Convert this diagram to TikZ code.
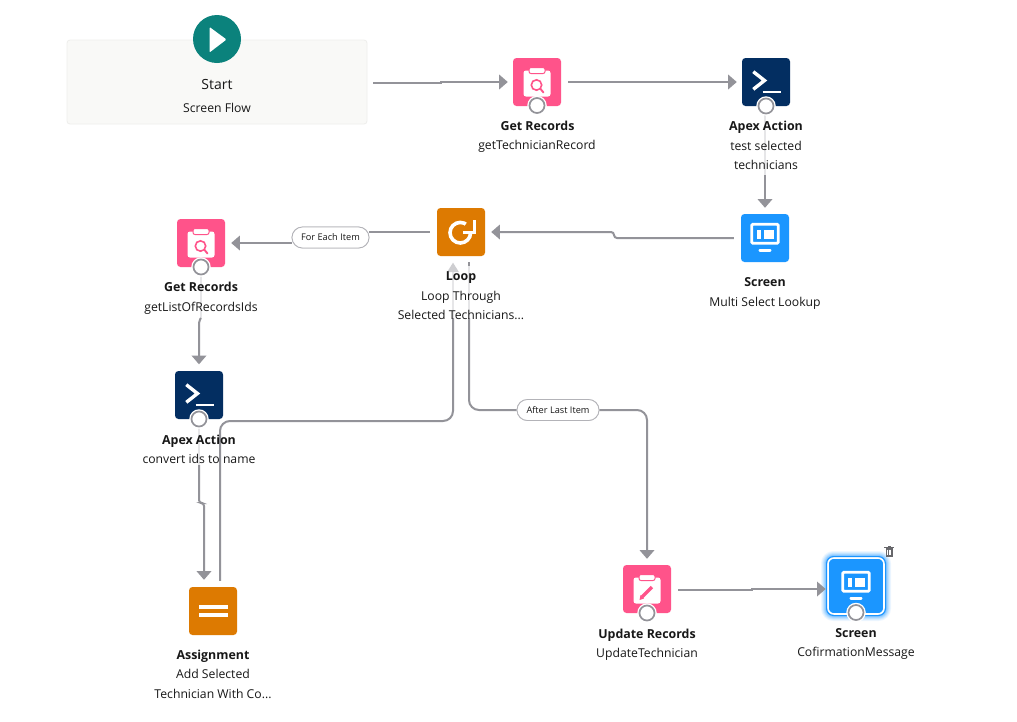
\documentclass[tikz,border=0pt]{standalone}
\usepackage{fontspec}
\setmainfont{Open Sans}
\usetikzlibrary{arrows.meta,calc}
\definecolor{conn}{HTML}{939399}
\definecolor{connlight}{HTML}{E6E6E8}
\definecolor{pinkic}{HTML}{FF538A}
\definecolor{navyic}{HTML}{032E61}
\definecolor{blueic}{HTML}{1B96FF}
\definecolor{orangeic}{HTML}{DD7A01}
\definecolor{tealic}{HTML}{0B827C}
\definecolor{boxfill}{HTML}{F9F9F7}
\definecolor{boxline}{HTML}{EEEEEC}
\definecolor{txt}{HTML}{181818}
\tikzset{
  x=1pt,y=-1pt,
  icon/.style={rounded corners=3.5pt,minimum size=48pt,inner sep=0pt,fill=#1},
  title/.style={font=\fontsize{12.4}{15}\selectfont\bfseries,text=txt,inner sep=0pt,anchor=center,text height=11pt,text depth=1pt},
  sub/.style={font=\fontsize{12.2}{15}\selectfont,text=txt,inner sep=0pt,anchor=center,text height=11pt,text depth=1pt},
  flow/.style={draw=conn,line width=2pt,-{Triangle[length=8.7pt,width=14.5pt]}},
  flowplain/.style={draw=conn,line width=2pt},
  faint/.style={draw=connlight,line width=2pt},
  pill/.style={draw=conn!70,line width=.8pt,fill=white,rounded corners=10.5pt,minimum height=21pt,inner sep=0pt,font=\fontsize{9.2}{11}\selectfont,text=txt},
  port/.style={circle,draw=conn,line width=1.7pt,fill=white,minimum size=15pt,inner sep=0pt,preaction={draw=white,line width=4.4pt}},
}
\newcommand{\clipic}[1]{%
  \fill[white,rounded corners=2.5pt] ($(#1)+(-13.5,-11.5)$) rectangle ($(#1)+(13.5,14.5)$);
  \fill[white,rounded corners=2pt,draw=pinkic,line width=1pt] ($(#1)+(-8,-14.5)$) rectangle ($(#1)+(8,-8.5)$);
}
\newcommand{\lensic}[1]{%
  \draw[pinkic,line width=1.6pt] ($(#1)+(-0.5,3)$) circle[radius=5.2];
  \draw[pinkic,line width=1.9pt,line cap=round] ($(#1)+(3.4,6.8)$) -- ($(#1)+(6.5,10.5)$);
}
\newcommand{\apexic}[1]{%
  \draw[white,line width=3.4pt] ($(#1)+(-12.7,-10.3)$) -- ($(#1)+(-1.5,-1.5)$) -- ($(#1)+(-12.7,7.3)$);
  \draw[white,line width=2.8pt] ($(#1)+(-3.3,10)$) -- ($(#1)+(14.7,10)$);
}
\newcommand{\screenic}[1]{%
  \draw[white,line width=2.7pt,rounded corners=1pt] ($(#1)+(-13.2,-13.7)$) rectangle ($(#1)+(13.2,5.2)$);
  \fill[white] ($(#1)+(-8.5,-8.5)$) rectangle ($(#1)+(-4,0.5)$);
  \fill[white] ($(#1)+(-1.5,-8.5)$) rectangle ($(#1)+(9,0.5)$);
  \fill[white,rounded corners=1pt] ($(#1)+(-6.3,11)$) rectangle ($(#1)+(6.3,13.8)$);
}
\begin{document}
\begin{tikzpicture}
\useasboundingbox (0,0) rectangle (1017,721);
\fill[white] (0,0) rectangle (1017,721);

% start
\node[draw=boxline,fill=boxfill,rounded corners=3pt,line width=.8pt,minimum width=300pt,minimum height=84pt,inner sep=0pt] (startbox) at (217,82) {};
\node[circle,fill=tealic,minimum size=48pt,inner sep=0pt] (start) at (217,39) {};
\fill[white,rounded corners=1pt] (209.5,27) -- (226.5,39.5) -- (209.5,52.5) -- cycle;
\node[inner sep=0pt,font=\fontsize{14}{17}\selectfont,text=txt,text height=12pt,text depth=2pt] (startt) at (217,84) {Start};
\node[sub] (starts) at (217,107.5) {Screen Flow};

% icons
\node[icon=pinkic] (gr1) at (537,82) {};
\node[icon=navyic] (ap1) at (766,82) {};
\node[icon=blueic] (sc1) at (765,238) {};
\node[icon=orangeic] (loop) at (461,232) {};
\node[icon=pinkic] (gr2) at (201,243) {};
\node[icon=navyic] (ap2) at (199,395) {};
\node[icon=orangeic] (asg) at (213,611) {};
\node[icon=pinkic] (upd) at (647,589) {};
% selection glow
\foreach \w/\o in {11/.07,9/.09,7/.12,5/.16,3/.22}{
  \draw[blueic,line width=\w pt,rounded corners=7pt,opacity=\o] (826.5,556.5) rectangle (885.5,615.5);
}
\node[icon=blueic,draw=white,line width=1.6pt,minimum size=56pt,rounded corners=6pt] (sc2) at (856,586) {};
\draw[blueic,line width=1pt,rounded corners=7pt] (826.5,556.5) rectangle (885.5,615.5);

\clipic{gr1}\lensic{gr1}
\clipic{gr2}\lensic{gr2}
\clipic{upd}
\draw[pinkic,line width=3.4pt] ($(upd)+(-5,8)$) -- ($(upd)+(5,-2)$);
\fill[pinkic] ($(upd)+(-7.5,11)$) -- ($(upd)+(-6.5,6)$) -- ($(upd)+(-3,9.5)$) -- cycle;
\apexic{ap1}\apexic{ap2}
\screenic{sc1}\screenic{sc2}
% assignment
\fill[white] ($(asg)+(-14.5,-6.4)$) rectangle ($(asg)+(14.5,-2.3)$);
\fill[white] ($(asg)+(-14.5,2.2)$) rectangle ($(asg)+(14.5,6.4)$);
% loop icon
\draw[white,line width=3.6pt] ($(loop)+(-0.7,0.7)$) circle[radius=10.3];
\fill[orangeic] ($(loop)+(-0.7,0.7)$) -- ($(loop)+(9,-14)$) -- ($(loop)+(17,-14)$) -- ($(loop)+(17,0.7)$) -- cycle;
\draw[white,line width=3pt] ($(loop)+(13,-12)$) -- ($(loop)+(13,0)$) -- ($(loop)+(2,0)$);

% trash
\node[inner sep=0pt,minimum size=0pt] (trash) at (889,551) {};
\fill[conn!70!black] (885.5,548) rectangle (892.5,556.5);
\fill[conn!70!black] (884.3,546.5) rectangle (893.7,547.6);
\fill[conn!70!black] (887.5,545.5) rectangle (890.5,546.5);
\draw[white,line width=.5pt] (887.5,549.5) -- (887.5,554.8) (889,549.5) -- (889,554.8) (890.5,549.5) -- (890.5,554.8);

% pills
\node[pill,minimum width=77pt] (fe) at (330.5,237.5) {For Each Item};
\node[pill,minimum width=82pt] (al) at (558,410) {After Last Item};

% waypoints
\coordinate (a1) at (441,83);
\coordinate (a2) at (441,82);
\coordinate (b1) at (614,238);
\coordinate (b2) at (614,232);
\coordinate (c1) at (429,232);
\coordinate (c2) at (231,243);
\coordinate (d1) at (201,318);
\coordinate (d2) at (199,321);
\coordinate (e1) at (199,465);
\coordinate (e2) at (199,503);
\coordinate (e3) at (204,503);
\coordinate (f1) at (220,421);
\coordinate (f2) at (453,421);
\coordinate (f3) at (453,318);
\coordinate (g1) at (469,318);
\coordinate (g2) at (469,410);
\coordinate (h1) at (647,410);
\coordinate (i1) at (752,590);
\coordinate (i2) at (752,589);
\coordinate (u1) at (765,175);

% connectors
\draw[flow] ($(startbox.east)+(6,1)$) -- (a1) -- (a2) -- ($(gr1.west)+(-5,0)$);
\draw[flow] ($(gr1.east)+(7,0)$) -- ($(ap1.west)+(-5,0)$);
\draw[faint] (u1 |- ap1.south) -- (u1);
\draw[flow] (u1) -- ($(sc1.north)+(0,-6)$);
\draw[flow,rounded corners=3pt] ($(sc1.west)+(-7,0)$) -- (b1) -- (b2) -- ($(loop.east)+(6,0)$);
\draw[flowplain] ($(loop.west)+(-7,0)$) -- (c1) -- (fe.east |- c1);
\draw[flow] (fe.west |- c2) -- ($(gr2.east)+(6,0)$);
\draw[faint] (gr2.south) -- (d1);
\draw[flow,rounded corners=2pt] (d1) -- (d2) -- ($(ap2.north)+(0,-6.5)$);
\draw[faint] (ap2.south) -- (e1);
\draw[flow,rounded corners=3pt] (e1) -- (e2) -- (e3) -- ($(asg.north)+(-9,-7)$);
\draw[flowplain,rounded corners=10pt] ($(asg.north)+(7,-6)$) -- (f1) -- (f2) -- (f3);
\draw[faint] (f3) -- ($(loop.south)+(-8,8)$);
\fill[conn!45] ($(loop.south)+(-8,6.5)$) -- ($(loop.south)+(-14,16)$) -- ($(loop.south)+(-2,16)$) -- cycle;
\draw[faint] ($(loop.south)+(8,8)$) -- (g1);
\draw[flowplain,line width=1.6pt] ($(loop.south)+(8,6)$) -- ($(loop.south)+(8,10)$);
\draw[flowplain,rounded corners=10pt] (g1) -- (g2) -- (al.west);
\draw[flow,rounded corners=10pt] (al.east) -- (h1) -- ($(upd.north)+(0,-6)$);
\draw[flow] ($(upd.east)+(7,1)$) -- (i1) -- (i2) -- ($(sc2.west)+(-1.5,3)$);

% ports
\node[port] (p1) at (537,105.5) {};
\node[port] (p2) at (766,106) {};
\node[port] (p3) at (201,267) {};
\node[port] (p4) at (199,419) {};
\node[port] (p5) at (647,613) {};
\node[port] (p6) at (856,612.5) {};

% redraw pills above connectors
\node[pill,minimum width=77pt] at (fe) {For Each Item};
\node[pill,minimum width=82pt] at (al) {After Last Item};

% labels
\node[title] (l1) at (537.5,125) {Get Records};
\node[sub] (l1b) at (537,144.5) {getTechnicianRecord};
\node[title] (l2) at (766,125.5) {Apex Action};
\node[sub] (l2b) at (766,145.5) {test selected};
\node[sub] (l2c) at (766,164.5) {technicians};
\node[title] (l3) at (765,281.5) {Screen};
\node[sub] (l3b) at (765,301) {Multi Select Lookup};
\node[title] (l4) at (461,275) {Loop};
\node[sub] (l4b) at (461,295.5) {Loop Through};
\node[sub] (l4c) at (461,314.5) {Selected Technicians...};
\node[title] (l5) at (201,286) {Get Records};
\node[sub] (l5b) at (201,306.5) {getListOfRecordsIds};
\node[title] (l6) at (199,439) {Apex Action};
\node[sub] (l6b) at (199,458.5) {convert ids to name};
\node[title] (l7) at (213,654.5) {Assignment};
\node[sub] (l7b) at (213,673.5) {Add Selected};
\node[sub] (l7c) at (213,693) {Technician With Co...};
\node[title] (l8) at (647,633) {Update Records};
\node[sub] (l8b) at (647,652.5) {UpdateTechnician};
\node[title] (l9) at (856,632) {Screen};
\node[sub] (l9b) at (856,651.5) {CofirmationMessage};
\end{tikzpicture}
\end{document}
